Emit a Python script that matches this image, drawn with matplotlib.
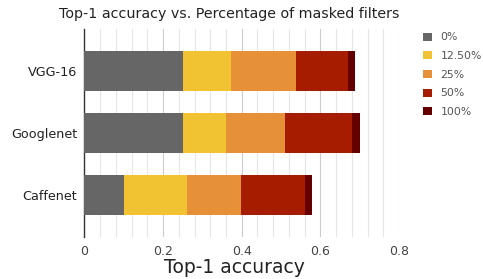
import numpy as np
import matplotlib.pyplot as plt
from matplotlib.ticker import MultipleLocator, FuncFormatter

plt.rcParams['font.family'] = ['DejaVu Sans']

models = ['VGG-16', 'Googlenet', 'Caffenet']
mask_levels = ['0%', '12.50%', '25%', '50%', '100%']

# width of each stacked segment
acc_0 = [0.250, 0.250, 0.100]
acc_125 = [0.122, 0.110, 0.161]
acc_25 = [0.167, 0.151, 0.138]
acc_50 = [0.132, 0.169, 0.161]
acc_100 = [0.017, 0.020, 0.019]

colors = ['#666666', '#f1c232', '#e69138', '#a61c00', '#660000']

fig = plt.figure(figsize=(4.83, 2.79), dpi=100)
ax = fig.add_axes([0.1745, 0.1505, 0.652, 0.7455])

y = np.arange(len(models))
left = np.zeros(len(models))
for vals, col, lab in zip([acc_0, acc_125, acc_25, acc_50, acc_100], colors, mask_levels):
    ax.barh(y, vals, left=left, height=0.65, color=col, label=lab, zorder=3)
    left += np.array(vals)

ax.set_xlim(0, 0.8)
ax.set_ylim(2.677, -0.677)
ax.set_yticks(y)
ax.set_yticklabels(models, fontsize=9.2, color='#222222')
ax.xaxis.set_major_locator(MultipleLocator(0.2))
ax.xaxis.set_minor_locator(MultipleLocator(0.04))
ax.xaxis.set_major_formatter(FuncFormatter(lambda v, p: '0' if abs(v) < 1e-9 else f'{v:.1f}'))
ax.tick_params(axis='x', labelsize=9, labelcolor='#444444')
ax.grid(axis='x', which='major', color='#cccccc', lw=0.8, zorder=0)
ax.grid(axis='x', which='minor', color='#e6e6e6', lw=0.8, zorder=0)
ax.tick_params(axis='both', which='both', length=0)
ax.tick_params(axis='x', pad=6)
ax.tick_params(axis='y', pad=5)
for s in ['top', 'right', 'bottom']:
    ax.spines[s].set_visible(False)
ax.spines['left'].set_color('#333333')
ax.spines['left'].set_linewidth(1)

ax.set_xlabel('Top-1 accuracy', fontsize=13.5, color='#222222', labelpad=1)
ax.xaxis.set_label_coords(0.478, -0.1)
ax.xaxis.label.set_va('top')
fig.text(0.475, 0.95, 'Top-1 accuracy vs. Percentage of masked filters',
         ha='center', va='center', fontsize=10.3, color='#222222')

ax.legend(loc='upper left', bbox_to_anchor=(1.05, 1.02), frameon=False,
          fontsize=7.8, handlelength=0.85, handleheight=0.75, labelspacing=0.8,
          handletextpad=0.8, labelcolor='#555555', borderaxespad=0.3)

fig.savefig('out.png', dpi=100)
